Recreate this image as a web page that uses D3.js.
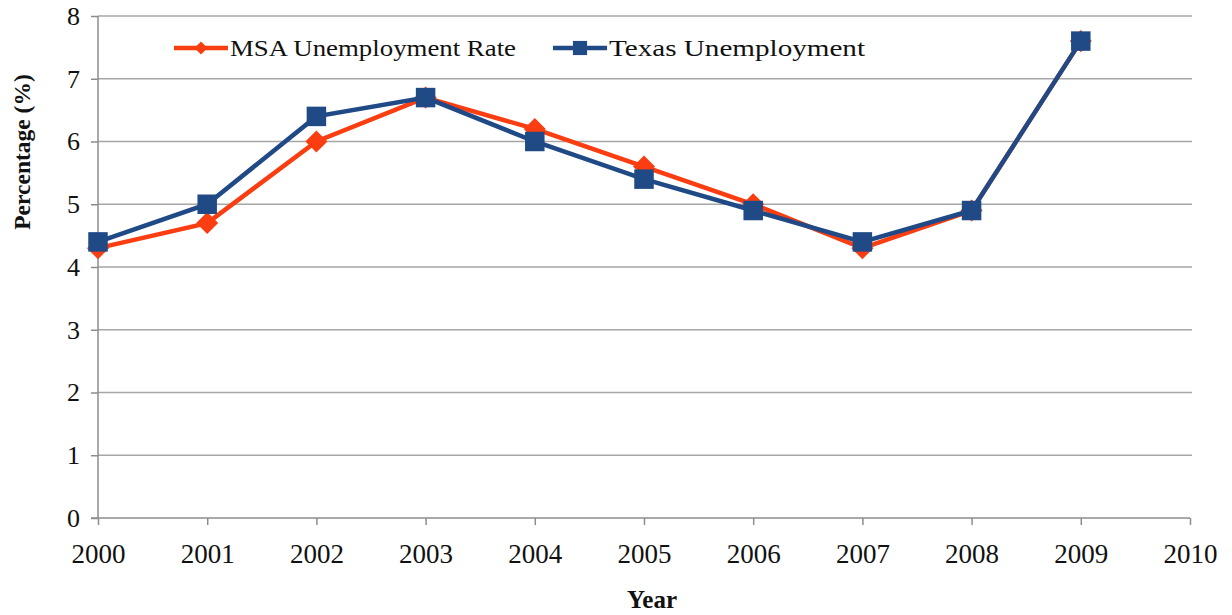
<!DOCTYPE html>
<html>
<head>
<meta charset="utf-8">
<script src="https://cdn.jsdelivr.net/npm/d3@7"></script>
<style>
body { margin: 0; background: #fff; }
</style>
</head>
<body>
<script>
var years = [2000, 2001, 2002, 2003, 2004, 2005, 2006, 2007, 2008, 2009];
var msaRate = [4.3, 4.7, 6.0, 6.7, 6.2, 5.6, 5.0, 4.3, 4.9, 7.6];
var texasRate = [4.4, 5.0, 6.4, 6.7, 6.0, 5.4, 4.9, 4.4, 4.9, 7.6];
var xTicks = [2000, 2001, 2002, 2003, 2004, 2005, 2006, 2007, 2008, 2009, 2010];
var yTicks = [0, 1, 2, 3, 4, 5, 6, 7, 8];

var w = 1232;
var h = 615;
var plotLeft = 98, plotRight = 1190, plotTop = 16, plotBottom = 518;
var red = "#FA3E12";
var blue = "#1F4A86";
var font = "'Liberation Serif', 'Times New Roman', serif";

var xScale = d3.scaleLinear().domain([2000, 2010]).range([plotLeft, plotRight]);
var yScale = d3.scaleLinear().domain([0, 8]).range([plotBottom, plotTop]);

var svg = d3.select("body").append("svg")
	.attr("width", w)
	.attr("height", h);

// grid lines
svg.append("g")
	.selectAll("line")
	.data(yTicks.slice(1))
	.enter()
	.append("line")
	.attr("x1", plotLeft).attr("x2", plotRight + 2)
	.attr("y1", function(d){ return yScale(d); })
	.attr("y2", function(d){ return yScale(d); })
	.attr("stroke", "#a6a6a6")
	.attr("stroke-width", 1.5);

var yAxis = svg.append("g")
	.attr("transform", "translate(" + plotLeft + ",0)")
	.call(d3.axisLeft(yScale).tickValues(yTicks).tickSize(7).tickPadding(11).tickFormat(d3.format("d")));

var xAxis = svg.append("g")
	.attr("transform", "translate(0," + plotBottom + ")")
	.call(d3.axisBottom(xScale).tickValues(xTicks).tickSize(7).tickPadding(19).tickFormat(d3.format("d")));

svg.selectAll(".domain").remove();
yAxis.append("line").attr("y1", plotTop).attr("y2", plotBottom).attr("stroke", "#8c8c8c").attr("stroke-width", 1.5);
xAxis.append("line").attr("x1", plotLeft - 7).attr("x2", plotRight).attr("stroke", "#8c8c8c").attr("stroke-width", 1.5);

svg.selectAll(".tick line").attr("stroke", "#8c8c8c").attr("stroke-width", 1.5);
svg.selectAll(".tick text")
	.attr("font-family", font)
	.attr("fill", "#111");
yAxis.selectAll(".tick text").attr("font-size", "26px");
xAxis.selectAll(".tick text").attr("font-size", "27px");

// axis titles
svg.append("text")
	.attr("x", 652).attr("y", 608)
	.attr("text-anchor", "middle")
	.attr("font-family", font)
	.attr("font-weight", "bold")
	.attr("font-size", "25px")
	.attr("fill", "#111")
	.text("Year");

svg.append("text")
	.attr("transform", "translate(30,152) rotate(-90)")
	.attr("text-anchor", "middle")
	.attr("font-family", font)
	.attr("font-weight", "bold")
	.attr("font-size", "23.5px")
	.attr("fill", "#111")
	.text("Percentage (%)");

var line = d3.line()
	.x(function(d, i){ return xScale(years[i]); })
	.y(function(d){ return yScale(d); });

var diamond = d3.symbol().type(d3.symbolDiamond2).size(310);
var square = d3.symbol().type(d3.symbolSquare).size(380);

// MSA series
svg.append("path")
	.attr("d", line(msaRate))
	.attr("fill", "none")
	.attr("stroke", red)
	.attr("stroke-width", 4.5);

svg.append("g").selectAll("path")
	.data(msaRate)
	.enter()
	.append("path")
	.attr("transform", function(d, i){ return "translate(" + xScale(years[i]) + "," + yScale(d) + ")"; })
	.attr("d", diamond)
	.attr("fill", red);

// Texas series
svg.append("path")
	.attr("d", line(texasRate))
	.attr("fill", "none")
	.attr("stroke", blue)
	.attr("stroke-width", 4.5);

svg.append("g").selectAll("path")
	.data(texasRate)
	.enter()
	.append("path")
	.attr("transform", function(d, i){ return "translate(" + xScale(years[i]) + "," + yScale(d) + ")"; })
	.attr("d", square)
	.attr("fill", blue);

// legend
var legendItems = [
	{ name: "MSA Unemployment Rate", color: red, sym: d3.symbol().type(d3.symbolDiamond2).size(110), x: 174, len: 286 },
	{ name: "Texas Unemployment", color: blue, sym: d3.symbol().type(d3.symbolSquare).size(200), x: 553, len: 256 }
];

var legend = svg.append("g")
	.selectAll("g")
	.data(legendItems)
	.enter()
	.append("g")
	.attr("transform", function(d){ return "translate(" + d.x + ",48)"; });

legend.append("line")
	.attr("x1", 0).attr("x2", 54)
	.attr("stroke", function(d){ return d.color; })
	.attr("stroke-width", 4.5);

legend.append("path")
	.attr("transform", "translate(27,0)")
	.attr("d", function(d){ return d.sym(); })
	.attr("fill", function(d){ return d.color; });

legend.append("text")
	.attr("x", 56).attr("y", 8)
	.attr("font-family", font)
	.attr("font-size", "24px")
	.attr("fill", "#111")
	.attr("textLength", function(d){ return d.len; })
	.attr("lengthAdjust", "spacingAndGlyphs")
	.text(function(d){ return d.name; });
</script>
</body>
</html>
